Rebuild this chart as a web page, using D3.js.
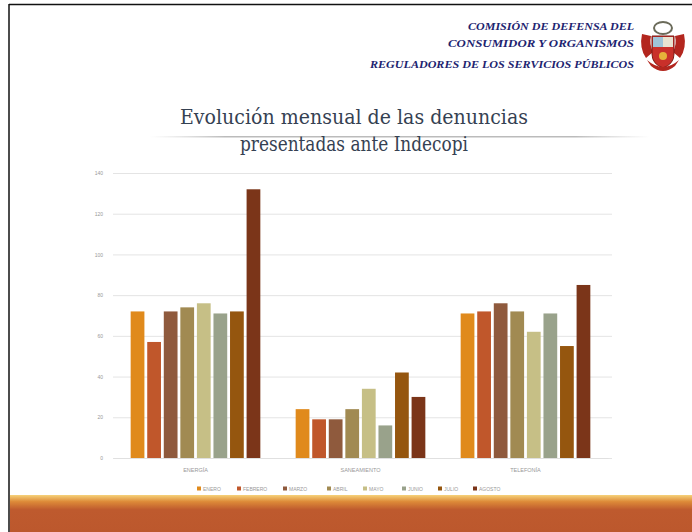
<!DOCTYPE html>
<html>
<head>
<meta charset="utf-8">
<script src="https://cdn.jsdelivr.net/npm/d3@7"></script>
<style>
  body { margin: 0; background: #fff; }
  svg { display: block; }
</style>
</head>
<body>
<div id="viz"></div>
<script>
// data
var categorias = ["ENERGÍA", "SANEAMIENTO", "TELEFONÍA"];
var meses = ["ENERO", "FEBRERO", "MARZO", "ABRIL", "MAYO", "JUNIO", "JULIO", "AGOSTO"];
var enero   = [72, 24, 71];
var febrero = [57, 19, 72];
var marzo   = [72, 19, 76];
var abril   = [74, 24, 72];
var mayo    = [76, 34, 62];
var junio   = [71, 16, 71];
var julio   = [72, 42, 55];
var agosto  = [132, 30, 85];
var yTicks = [0, 20, 40, 60, 80, 100, 120, 140];
var colores = ["#e08a1c", "#c0572b", "#8f5a3d", "#a18a52", "#c6bf86", "#99a28b", "#95560f", "#7b3519"];
var encabezado = ["COMISIÓN DE DEFENSA DEL", "CONSUMIDOR Y ORGANISMOS", "REGULADORES DE LOS SERVICIOS PÚBLICOS"];
var titulo = ["Evolución mensual de las denuncias", "presentadas ante Indecopi"];

var series = [enero, febrero, marzo, abril, mayo, junio, julio, agosto];

var W = 692, H = 532;
var svg = d3.select("#viz").append("svg").attr("width", W).attr("height", H);
var defs = svg.append("defs");

// slide frame
svg.append("rect").attr("width", W).attr("height", H).attr("fill", "#fff");
svg.append("line").attr("x1", 9).attr("x2", W).attr("y1", 4.5).attr("y2", 4.5).attr("stroke", "#111").attr("stroke-width", 1.5);
svg.append("line").attr("x1", 9).attr("x2", 9).attr("y1", 4).attr("y2", H).attr("stroke", "#111").attr("stroke-width", 1.5);

// bottom band
var gBand = defs.append("linearGradient").attr("id", "band").attr("x1", 0).attr("x2", 0).attr("y1", 0).attr("y2", 1);
gBand.append("stop").attr("offset", "0%").attr("stop-color", "#f6d27a");
gBand.append("stop").attr("offset", "18%").attr("stop-color", "#dd8a38");
gBand.append("stop").attr("offset", "40%").attr("stop-color", "#be5a2e");
gBand.append("stop").attr("offset", "100%").attr("stop-color", "#bc582d");
svg.append("rect").attr("x", 10).attr("y", 495).attr("width", W - 10).attr("height", H - 495).attr("fill", "url(#band)");

// header text
svg.append("g").selectAll("text").data(encabezado).enter().append("text")
  .attr("x", 634)
  .attr("y", function(d, i) { return [30, 47, 68][i]; })
  .attr("text-anchor", "end")
  .attr("font-family", "Liberation Serif, serif")
  .attr("font-style", "italic")
  .attr("font-weight", "bold")
  .attr("font-size", 11)
  .attr("fill", "#1d2470")
  .attr("lengthAdjust", "spacingAndGlyphs")
  .attr("textLength", function(d, i) { return [166, 186, 264][i]; })
  .text(function(d) { return d; });

// rough coat of arms
var logo = svg.append("g").attr("transform", "translate(663,48)");
logo.append("path").attr("d", "M-21,-14 Q-24,0 -17,10 L-10,4 Q-14,-4 -12,-12 Z").attr("fill", "#b3261e");
logo.append("path").attr("d", "M21,-14 Q24,0 17,10 L10,4 Q14,-4 12,-12 Z").attr("fill", "#b3261e");
logo.append("path").attr("d", "M-11,-12 L11,-12 L11,6 Q11,16 0,20 Q-11,16 -11,6 Z").attr("fill", "#c9302a").attr("stroke", "#7d1b14").attr("stroke-width", 1);
logo.append("rect").attr("x", -10).attr("y", -11).attr("width", 10).attr("height", 10).attr("fill", "#9fc4d8");
logo.append("rect").attr("x", 0).attr("y", -11).attr("width", 10).attr("height", 10).attr("fill", "#e9e3d0");
logo.append("ellipse").attr("cx", 0).attr("cy", -20).attr("rx", 9).attr("ry", 6).attr("fill", "none").attr("stroke", "#6b6b5a").attr("stroke-width", 2);
logo.append("circle").attr("cx", 0).attr("cy", 8).attr("r", 4).attr("fill", "#e6b23a");
logo.append("path").attr("d", "M-16,12 Q0,26 16,12 L12,18 Q0,28 -12,18 Z").attr("fill", "#b3261e");

// title
var gLine = defs.append("linearGradient").attr("id", "rule");
gLine.append("stop").attr("offset", "0%").attr("stop-color", "#ccc").attr("stop-opacity", 0);
gLine.append("stop").attr("offset", "15%").attr("stop-color", "#bbb").attr("stop-opacity", 1);
gLine.append("stop").attr("offset", "85%").attr("stop-color", "#bbb").attr("stop-opacity", 1);
gLine.append("stop").attr("offset", "100%").attr("stop-color", "#ccc").attr("stop-opacity", 0);
svg.append("rect").attr("x", 150).attr("y", 136).attr("width", 500).attr("height", 1.5).attr("fill", "url(#rule)");

svg.append("g").selectAll("text").data(titulo).enter().append("text")
  .attr("x", 354)
  .attr("y", function(d, i) { return [124, 151][i]; })
  .attr("text-anchor", "middle")
  .attr("font-family", "DejaVu Serif, serif")
  .attr("font-size", 20)
  .attr("fill", "#354152")
  .attr("lengthAdjust", "spacingAndGlyphs")
  .attr("textLength", function(d, i) { return [348, 228][i]; })
  .text(function(d) { return d; });

// chart
var x0 = 113, x1 = 608, yTop = 173, yBot = 458;

var x = d3.scaleBand().domain(categorias).range([x0, x1]).paddingInner(0.18).paddingOuter(0.09);
var xSub = d3.scaleBand().domain(meses).range([0, x.bandwidth()]).padding(0.17);
var y = d3.scaleLinear().domain([0, 140]).range([yBot, yTop]);
var color = d3.scaleOrdinal().domain(meses).range(colores);

// gridlines + tick labels
var yAxis = svg.append("g").attr("transform", "translate(" + x0 + ",0)")
  .call(d3.axisLeft(y).tickValues(yTicks).tickSize(-(x1 - x0 + 4)).tickPadding(10));
yAxis.select(".domain").remove();
yAxis.selectAll("line").attr("stroke", "#e4e4e4");
yAxis.selectAll("text").attr("fill", "#999").attr("font-family", "Liberation Sans, sans-serif").attr("font-size", 5);

// x axis labels
var xAxis = svg.append("g").attr("transform", "translate(0," + yBot + ")")
  .call(d3.axisBottom(x).tickSize(0).tickPadding(10));
xAxis.select(".domain").attr("stroke", "#e0e0e0");
xAxis.selectAll("text").attr("fill", "#999").attr("font-family", "Liberation Sans, sans-serif").attr("font-size", 5.5);

// bars
svg.append("g").selectAll("g")
  .data(categorias)
  .enter().append("g")
    .attr("transform", function(d) { return "translate(" + x(d) + ",0)"; })
  .selectAll("rect")
  .data(function(c, ci) { return meses.map(function(m, mi) { return {key: m, value: series[mi][ci]}; }); })
  .enter().append("rect")
    .attr("x", function(d) { return xSub(d.key); })
    .attr("y", function(d) { return y(d.value); })
    .attr("width", xSub.bandwidth())
    .attr("height", function(d) { return yBot - y(d.value); })
    .attr("fill", function(d) { return color(d.key); });

// legend
var legX = [197, 237, 283, 327, 363, 402, 438, 473];
var leg = svg.append("g").selectAll("g").data(meses).enter().append("g")
  .attr("transform", function(d, i) { return "translate(" + legX[i] + ",489)"; });
leg.append("rect").attr("x", 0).attr("y", -2.5).attr("width", 4).attr("height", 4).attr("fill", function(d) { return color(d); });
leg.append("text").attr("x", 6).attr("y", 1.5)
  .attr("fill", "#999").attr("font-family", "Liberation Sans, sans-serif").attr("font-size", 5)
  .text(function(d) { return d; });
</script>
</body>
</html>
